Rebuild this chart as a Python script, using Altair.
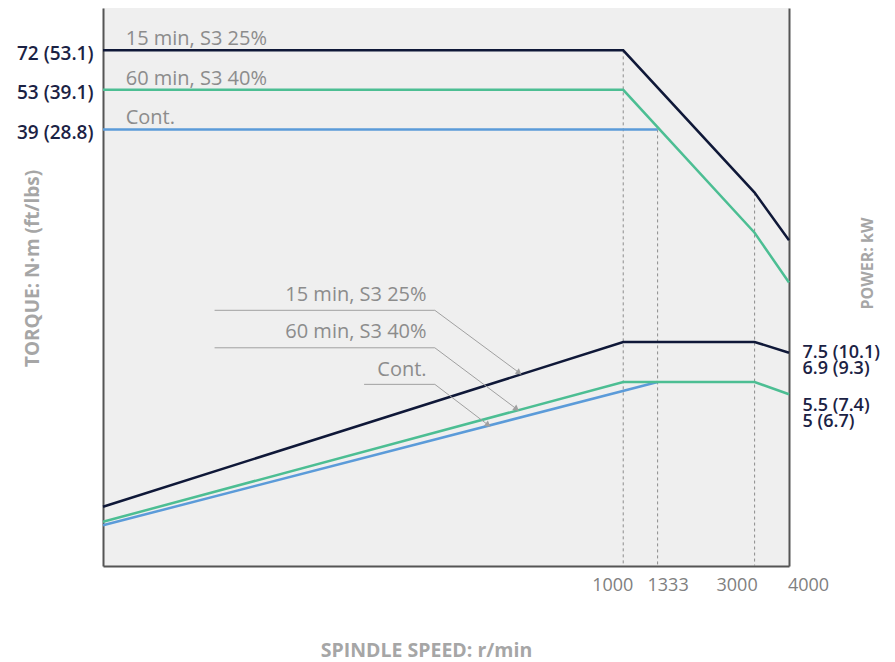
import altair as alt
import pandas as pd

# ---------------- data ----------------
SERIES = ["Cont.", "60 min, S3 40%", "15 min, S3 25%"]
COLORS = ["#5b9bd9", "#4cbe93", "#0f1838"]

curve_series = ["Cont.", "Cont.",
                "60 min, S3 40%", "60 min, S3 40%", "60 min, S3 40%", "60 min, S3 40%",
                "15 min, S3 25%", "15 min, S3 25%", "15 min, S3 25%", "15 min, S3 25%"]
curve_speed = [12.9, 1333, 12.9, 1000, 3000, 4000, 12.9, 1000, 3000, 4000]
torque_nm = [39, 39, 53, 53, 17.5, 11.9, 72, 72, 23.9, 16.5]
power_kw = [1.81, 5.5, 1.86, 5.5, 5.5, 5.0, 2.09, 7.5, 7.5, 6.9]

speed_ticks = [1000, 1333, 3000, 4000]
torque_ticks = [39, 53, 72]
torque_tick_labels = ["39 (28.8)", "53 (39.1)", "72 (53.1)"]
power_ticks = [7.5, 6.9, 5.5, 5]
power_tick_labels = ["7.5 (10.1)", "6.9 (9.3)", "5.5 (7.4)", "5 (6.7)"]

guide_speed = [1000, 1333, 3000]
guide_torque = [72, 39, 23.9]

top_label_series = ["15 min, S3 25%", "60 min, S3 40%", "Cont."]
top_label_speed = [15.6, 15.6, 15.6]
top_label_level = [72, 53, 39]

ann_labels = ["15 min, S3 25%", "60 min, S3 40%", "Cont."]
ann_text_speed = [193.1, 193.1, 193.1]
ann_text_level = [10.8, 8.12, 6.04]
ann_start_speed = [32.8, 32.8, 114.5]
ann_corner_speed = [206.9, 206.9, 206.9]
ann_level = [9.59, 7.17, 5.40]
ann_tip_speed = [418.8, 410.0, 323.2]
ann_tip_level = [5.91, 4.46, 3.94]

X_DOMAIN = [12.9, 4000]
Y_DOMAIN = [1.32, 100]

# ---------------- tables ----------------
curves = pd.DataFrame({"series": curve_series, "speed": curve_speed,
                       "torque": torque_nm, "power": power_kw})
guides = pd.DataFrame({"speed": guide_speed, "top": guide_torque})
top_labels = pd.DataFrame({"series": top_label_series, "speed": top_label_speed,
                           "level": top_label_level})
ann_text = pd.DataFrame({"label": ann_labels, "speed": ann_text_speed, "level": ann_text_level})
rows = []
for i, lab in enumerate(ann_labels):
    rows.append({"label": lab, "step": 0, "speed": ann_start_speed[i], "level": ann_level[i]})
    rows.append({"label": lab, "step": 1, "speed": ann_corner_speed[i], "level": ann_level[i]})
    rows.append({"label": lab, "step": 2, "speed": ann_tip_speed[i], "level": ann_tip_level[i]})
leaders = pd.DataFrame(rows)
tips = pd.DataFrame({"label": ann_labels, "speed": ann_tip_speed, "level": ann_tip_level})

FONT = "Open Sans"
NAVY_TXT = "#1b2244"
GRAY_TXT = "#8c8c8c"
TITLE_GRAY = "#a6a6a6"


def label_expr(vals, labs):
    e = "''"
    for v, l in zip(reversed(vals), reversed(labs)):
        e = f"(abs(datum.value - {v}) < 1e-6 ? '{l}' : {e})"
    return e


xscale = alt.Scale(type="log", domain=X_DOMAIN, nice=False)
yscale = alt.Scale(type="log", domain=Y_DOMAIN, nice=False)

x_axis = alt.Axis(
    values=speed_ticks, format="d", grid=False, ticks=False, tickSize=0,
    labelFont=FONT, labelFontSize=18, labelFontWeight=500, labelColor="#808080",
    labelBaseline="middle", labelPadding=19, labelOverlap=False, labelFlush=False,
    labelOffset={"condition": [
        {"test": "datum.value == 1000", "value": -11},
        {"test": "datum.value == 1333", "value": 10},
        {"test": "datum.value == 3000", "value": -18}], "value": 19},
    domainColor="#555555", domainWidth=2,
    title="SPINDLE SPEED: r/min", titleFont=FONT, titleFontSize=19.5, titleFontWeight="bold",
    titleColor=TITLE_GRAY, titleX=323, titleY=84, titleBaseline="middle", titleAlign="center",
)

left_axis = alt.Axis(
    orient="left", values=torque_ticks, labelExpr=label_expr(torque_ticks, torque_tick_labels),
    grid=False, ticks=False, tickSize=0, labelFont=FONT, labelFontSize=19, labelFontWeight=600,
    labelColor=NAVY_TXT, labelPadding=10, labelBaseline="middle", labelOffset=3,
    labelOverlap=False, domainColor="#555555", domainWidth=2,
    title="TORQUE: N·m (ft/lbs)", titleFont=FONT, titleFontSize=19, titleFontWeight="bold",
    titleColor=TITLE_GRAY, titleAngle=270, titleX=-71, titleY=260,
    titleBaseline="middle", titleAlign="center",
)

right_axis = alt.Axis(
    orient="right", values=power_ticks, labelExpr=label_expr(power_ticks, power_tick_labels),
    grid=False, ticks=False, tickSize=0, labelFont=FONT, labelFontSize=18, labelFontWeight=600,
    labelColor=NAVY_TXT, labelPadding=13, labelBaseline="middle", labelOverlap=False,
    labelOffset={"condition": [
        {"test": "abs(datum.value - 7.5) < 1e-6", "value": 11},
        {"test": "abs(datum.value - 6.9) < 1e-6", "value": 16},
        {"test": "abs(datum.value - 5.5) < 1e-6", "value": 24}], "value": 27.5},
    domainColor="#555555", domainWidth=2,
    title="POWER: kW", titleFont=FONT, titleFontSize=16, titleFontWeight="bold",
    titleColor=TITLE_GRAY, titleAngle=270, titleX=78, titleY=255,
    titleBaseline="middle", titleAlign="center",
)

color = alt.Color("series:N", scale=alt.Scale(domain=SERIES, range=COLORS), legend=None)
X = alt.X("speed:Q", scale=xscale, axis=x_axis)

rules = alt.Chart(guides).mark_rule(color="#8c8c8c", strokeWidth=1, strokeDash=[3, 3]).encode(
    x=X, y=alt.Y("top:Q", scale=yscale, axis=None), y2=alt.Y2(datum=Y_DOMAIN[0]))

torque = alt.Chart(curves).mark_line(strokeWidth=2.5).encode(
    x=X, y=alt.Y("torque:Q", scale=yscale, axis=left_axis), color=color)

power = alt.Chart(curves).mark_line(strokeWidth=2.5).encode(
    x=X, y=alt.Y("power:Q", scale=yscale, axis=right_axis), color=color)

tlabels = alt.Chart(top_labels).mark_text(
    align="left", baseline="middle", dy=-11, font=FONT, fontSize=20, fontWeight=500,
    color=GRAY_TXT).encode(
    x=X, y=alt.Y("level:Q", scale=yscale, axis=None), text="series:N")

lead = alt.Chart(leaders).mark_line(color="#a0a0a0", strokeWidth=1).encode(
    x=X, y=alt.Y("level:Q", scale=yscale, axis=None), detail="label:N", order="step:Q")

arrows = alt.Chart(tips).mark_point(shape="triangle-right", angle=37, filled=True, size=45,
                                    color="#a0a0a0", opacity=1).encode(
    x=X, y=alt.Y("level:Q", scale=yscale, axis=None))

atext = alt.Chart(ann_text).mark_text(
    align="right", baseline="middle", font=FONT, fontSize=20, fontWeight=500,
    color=GRAY_TXT).encode(
    x=X, y=alt.Y("level:Q", scale=yscale, axis=None), text="label:N")

chart = alt.layer(rules, torque, power, tlabels, lead, arrows, atext).resolve_axis(
    y="independent"
).properties(
    width=686, height=558,
    autosize=alt.AutoSizeParams(type="none"),
    padding={"left": 95, "top": 0, "right": 98, "bottom": 96},
    background="white",
).configure_view(fill="#efefef", stroke=None)

chart.save("out.html", embed_options={"renderer": "svg", "actions": False})
